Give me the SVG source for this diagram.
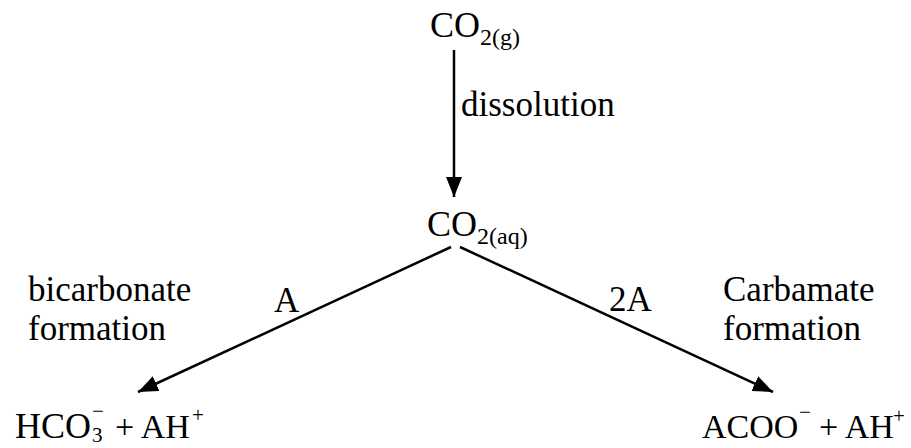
<svg xmlns="http://www.w3.org/2000/svg" width="911" height="448" viewBox="0 0 911 448">
<style>
.f{font-family:"Liberation Serif","Times New Roman",serif;fill:#000}
.b{font-size:36px}
.m{font-size:34px}
.lab{font-size:35px}
.sub{font-size:24px}
.sm{font-size:21px}
.ln{stroke:#000;stroke-width:2.5;fill:none}
</style>
<defs>
<marker id="ah2" viewBox="0 0 20 16" refX="20" refY="8" markerWidth="20" markerHeight="16" markerUnits="userSpaceOnUse" orient="auto">
<path d="M0,0 L20,8 L0,16 z" fill="#000"/>
</marker>
</defs>
<g id="connectors">
<line class="ln" x1="454" y1="50" x2="454" y2="197" marker-end="url(#ah2)"/>
<line class="ln" x1="451" y1="247" x2="138" y2="392" marker-end="url(#ah2)"/>
<line class="ln" x1="460" y1="247" x2="773" y2="392" marker-end="url(#ah2)"/>
</g>
<g id="co2g"><text class="f b" x="430" y="37">CO<tspan class="sub" dy="8">2(g)</tspan></text></g>
<g id="dissolution-label"><text class="f lab" x="461" y="116">dissolution</text></g>
<g id="co2aq"><text class="f b" x="427" y="236">CO<tspan class="sub" dy="8">2(aq)</tspan></text></g>
<g id="label-A"><text class="f lab" x="274" y="312">A</text></g>
<g id="label-2A"><text class="f lab" x="609" y="311">2A</text></g>
<g id="bicarbonate"><text class="f lab" x="28" y="301">bicarbonate</text><text class="f lab" x="28" y="340">formation</text></g>
<g id="carbamate"><text class="f lab" x="723" y="301">Carbamate</text><text class="f lab" x="723" y="340">formation</text></g>
<g id="hco3"><text class="f b" x="15" y="438">HCO<tspan class="sm" x="92" y="442">3</tspan><tspan class="sm" x="92" y="418">−</tspan><tspan class="m" x="115" y="438">+ AH</tspan><tspan class="sm" x="192" y="422">+</tspan></text></g>
<g id="acoo"><text class="f m" x="702" y="438">ACOO<tspan class="sm" x="799" y="419">−</tspan><tspan x="819" y="438">+ AH</tspan><tspan class="sm" x="893" y="423">+</tspan></text></g>
</svg>
